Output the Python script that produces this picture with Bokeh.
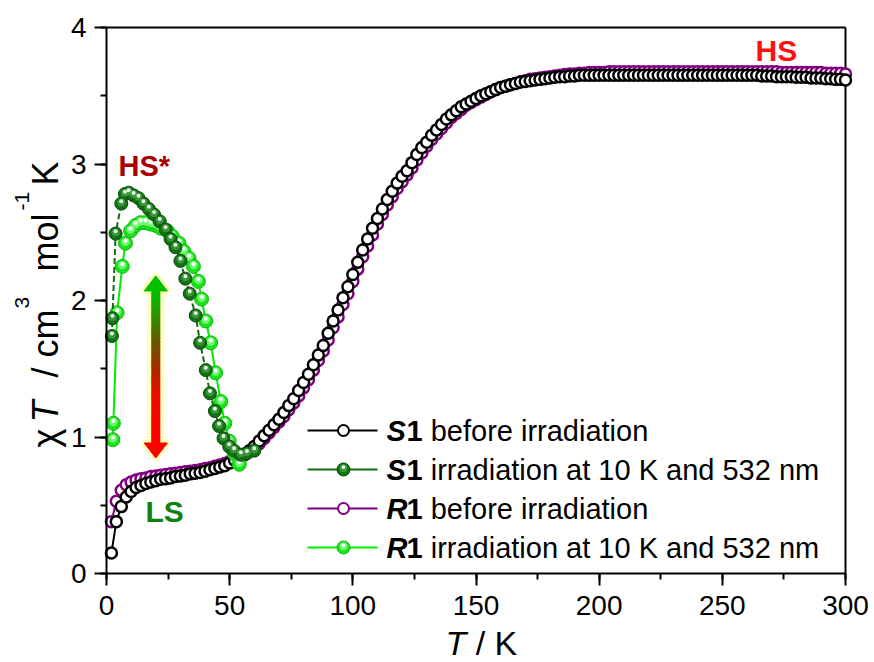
import math
from bokeh.plotting import figure
from bokeh.models import Label, SingleIntervalTicker, Range1d, ColumnDataSource
from bokeh.transform import dodge
from bokeh.embed import file_html
from bokeh.resources import INLINE

# ---------------- data ----------------
T_before = [
    2, 4, 6, 8, 10, 12, 14, 16, 18, 20,
    22, 24, 26, 28, 30, 32, 34, 36, 38, 40,
    42, 44, 46, 48, 50, 52, 54, 56, 58, 60,
    62, 64, 66, 68, 70, 72, 74, 76, 78, 80,
    82, 84, 86, 88, 90, 92, 94, 96, 98, 100,
    102, 104, 106, 108, 110, 112, 114, 116, 118, 120,
    122, 124, 126, 128, 130, 132, 134, 136, 138, 140,
    142, 144, 146, 148, 150, 152, 154, 156, 158, 160,
    162, 164, 166, 168, 170, 172, 174, 176, 178, 180,
    182, 184, 186, 188, 190, 192, 194, 196, 198, 200,
    202, 204, 206, 208, 210, 212, 214, 216, 218, 220,
    222, 224, 226, 228, 230, 232, 234, 236, 238, 240,
    242, 244, 246, 248, 250, 252, 254, 256, 258, 260,
    262, 264, 266, 268, 270, 272, 274, 276, 278, 280,
    282, 284, 286, 288, 290, 292, 294, 296, 298, 300,
]

chiT_S1_before = [
    0.15, 0.38, 0.49, 0.56, 0.60, 0.63, 0.645, 0.66, 0.67, 0.68,
    0.69, 0.695, 0.70, 0.71, 0.715, 0.72, 0.73, 0.735, 0.74, 0.75,
    0.76, 0.77, 0.78, 0.79, 0.81, 0.83, 0.85, 0.87, 0.90, 0.93,
    0.97, 1.01, 1.05, 1.09, 1.13, 1.18, 1.23, 1.28, 1.34, 1.40,
    1.46, 1.53, 1.60, 1.67, 1.76, 1.85, 1.93, 2.02, 2.10, 2.19,
    2.28, 2.37, 2.45, 2.53, 2.60, 2.67, 2.74, 2.80, 2.86, 2.91,
    2.95, 3.01, 3.07, 3.12, 3.16, 3.21, 3.25, 3.29, 3.33, 3.36,
    3.39, 3.42, 3.44, 3.46, 3.48, 3.50, 3.515, 3.53, 3.545, 3.56,
    3.57, 3.58, 3.59, 3.60, 3.605, 3.61, 3.615, 3.62, 3.625, 3.63,
    3.635, 3.64, 3.64, 3.645, 3.645, 3.65, 3.65, 3.65, 3.65, 3.65,
    3.65, 3.65, 3.65, 3.65, 3.65, 3.65, 3.65, 3.65, 3.65, 3.65,
    3.65, 3.65, 3.65, 3.65, 3.65, 3.65, 3.65, 3.65, 3.65, 3.65,
    3.65, 3.65, 3.65, 3.65, 3.65, 3.65, 3.65, 3.65, 3.65, 3.65,
    3.65, 3.65, 3.645, 3.645, 3.645, 3.64, 3.64, 3.64, 3.64, 3.635,
    3.635, 3.635, 3.63, 3.63, 3.63, 3.625, 3.625, 3.62, 3.62, 3.615,
]

chiT_R1_before = [
    0.38, 0.53, 0.61, 0.65, 0.67, 0.685, 0.695, 0.70, 0.71, 0.715,
    0.72, 0.725, 0.73, 0.735, 0.74, 0.745, 0.75, 0.755, 0.76, 0.77,
    0.775, 0.785, 0.795, 0.805, 0.82, 0.835, 0.855, 0.875, 0.895, 0.92,
    0.95, 0.99, 1.03, 1.07, 1.11, 1.15, 1.20, 1.25, 1.30, 1.36,
    1.42, 1.49, 1.56, 1.63, 1.71, 1.80, 1.88, 1.97, 2.05, 2.14,
    2.23, 2.32, 2.40, 2.48, 2.56, 2.63, 2.70, 2.76, 2.82, 2.87,
    2.92, 2.97, 3.03, 3.08, 3.13, 3.18, 3.22, 3.26, 3.30, 3.34,
    3.37, 3.40, 3.43, 3.45, 3.47, 3.49, 3.51, 3.53, 3.545, 3.56,
    3.57, 3.58, 3.59, 3.60, 3.61, 3.62, 3.625, 3.63, 3.635, 3.64,
    3.645, 3.65, 3.655, 3.66, 3.66, 3.665, 3.665, 3.67, 3.67, 3.67,
    3.67, 3.675, 3.675, 3.675, 3.675, 3.675, 3.675, 3.675, 3.675, 3.675,
    3.675, 3.675, 3.675, 3.675, 3.675, 3.675, 3.675, 3.675, 3.675, 3.675,
    3.675, 3.675, 3.675, 3.675, 3.675, 3.675, 3.675, 3.675, 3.675, 3.675,
    3.675, 3.675, 3.675, 3.675, 3.675, 3.675, 3.67, 3.67, 3.67, 3.67,
    3.67, 3.67, 3.67, 3.67, 3.67, 3.665, 3.665, 3.665, 3.665, 3.66,
]

T_S1_irr = [2.2, 2.4, 3.7, 6.0, 7.5, 9.0, 11.0, 13.0, 15.0, 17.2,
            19.3, 21.6, 24.0, 26.0, 28.0, 30.0, 32.0, 33.8, 36.2, 38.0,
            40.3, 42.0, 44.0, 45.7, 47.5, 49.8, 51.8, 54.5, 57.0, 60.0]
chiT_S1_irr = [1.74, 1.87, 2.49, 2.71, 2.78, 2.79, 2.77, 2.75, 2.71, 2.67,
               2.63, 2.58, 2.52, 2.45, 2.39, 2.29, 2.16, 2.05, 1.89, 1.69,
               1.49, 1.32, 1.19, 1.08, 0.99, 0.93, 0.90, 0.87, 0.88, 0.90]

T_R1_irr = [2.6, 2.8, 4.3, 6.4, 7.7, 9.8, 11.8, 13.8, 15.8, 17.9,
            20.0, 22.0, 24.7, 26.7, 29.4, 31.4, 33.5, 35.3, 37.3, 38.6,
            40.3, 42.3, 44.3, 46.4, 48.0, 49.8, 51.8, 53.9]
chiT_R1_irr = [0.98, 1.10, 1.91, 2.25, 2.42, 2.51, 2.55, 2.57, 2.57, 2.56,
               2.55, 2.53, 2.51, 2.47, 2.42, 2.36, 2.31, 2.25, 2.14, 2.01,
               1.85, 1.69, 1.47, 1.26, 1.10, 0.97, 0.88, 0.80]

x_tick_step = 50
y_tick_step = 1

legend_names = [
    ("S", "1", "before irradiation"),
    ("S", "1", "irradiation at 10 K and 532 nm"),
    ("R", "1", "before irradiation"),
    ("R", "1", "irradiation at 10 K and 532 nm"),
]

# ---------------- layout ----------------
W, H = 874, 662
PL, PR, PT, PB = 106, 845, 27, 573   # pixel box of the data area 0..300 x 0..4
X0, X1 = 0, 300
Y0, Y1 = 0, 4
FONT = "Liberation Sans"


def tx(px):
    return X0 + (px - PL) * (X1 - X0) / (PR - PL)


def ty(py):
    return Y0 + (PB - py) * (Y1 - Y0) / (PB - PT)


DY = (Y1 - Y0) / (PB - PT)  # one pixel in y data units

# the frame covers the whole canvas so that the axis titles (drawn as
# several pieces for italic / superscript) are not clipped; the axes are
# placed at fixed data locations
p = figure(width=W, height=H,
           x_range=Range1d(tx(0), tx(W)), y_range=Range1d(ty(H), ty(0)),
           output_backend="svg", toolbar_location=None,
           min_border_left=0, min_border_right=0,
           min_border_top=0, min_border_bottom=0)
p.xgrid.visible = False
p.ygrid.visible = False
p.outline_line_color = None
p.background_fill_color = "white"
p.border_fill_color = "white"

p.xaxis.ticker = SingleIntervalTicker(interval=x_tick_step, num_minor_ticks=2)
p.yaxis.ticker = SingleIntervalTicker(interval=y_tick_step, num_minor_ticks=2)
p.xaxis.fixed_location = Y0
p.yaxis.fixed_location = X0
p.xaxis.bounds = (X0, X1)
p.yaxis.bounds = (Y0, Y1)
for ax in (p.xaxis[0], p.yaxis[0]):
    ax.axis_line_width = 2
    ax.axis_line_color = "black"
    ax.major_tick_line_width = 2
    ax.minor_tick_line_width = 2
    ax.major_tick_line_color = "black"
    ax.minor_tick_line_color = "black"
    ax.major_tick_in = 0
    ax.major_tick_out = 12
    ax.minor_tick_in = 0
    ax.minor_tick_out = 6
    ax.major_label_text_font = FONT
    ax.major_label_text_font_size = "28px"
    ax.major_label_text_color = "black"
    ax.axis_label = None
p.xaxis.major_label_standoff = 10
p.yaxis.major_label_standoff = 8

# top and right frame lines
p.line([X0, X1], [Y1, Y1], line_color="black", line_width=2)
p.line([X1, X1], [Y0, Y1], line_color="black", line_width=2)


def spheres(xs, ys, size, body, edge, mid, hi):
    src = ColumnDataSource(dict(x=xs, y=ys))
    p.scatter("x", "y", source=src, size=size, fill_color=body,
              line_color=edge, line_width=1)
    p.scatter(x="x", y=dodge("y", 1.3 * DY, range=p.y_range), source=src,
              size=size * 0.6, fill_color=mid, line_color=None, fill_alpha=0.9)
    p.scatter(x="x", y=dodge("y", 2.4 * DY, range=p.y_range), source=src,
              size=size * 0.3, fill_color=hi, line_color=None)


PURPLE = "#800080"
DKGREEN = "#0f6f0f"
LTGREEN = "#00ee00"
DK_SPH = ("#137313", "#0b4d0b", "#3f9a3f", "#eef8ee")
LT_SPH = ("#1be31b", "#12b812", "#7dfa7d", "#ffffff")

# R1 before
p.line(T_before, chiT_R1_before, line_color=PURPLE, line_width=2)
p.scatter(T_before, chiT_R1_before, size=11, fill_color="white",
          line_color=PURPLE, line_width=2.5)
# S1 before
p.line(T_before, chiT_S1_before, line_color="black", line_width=2)
p.scatter(T_before, chiT_S1_before, size=11, fill_color="white",
          line_color="black", line_width=2.5)
# R1 irradiated
p.line(T_R1_irr, chiT_R1_irr, line_color=LTGREEN, line_width=2)
spheres(T_R1_irr, chiT_R1_irr, 14, *LT_SPH)
# S1 irradiated
p.line(T_S1_irr, chiT_S1_irr, line_color=DKGREEN, line_width=2, line_dash="6 3")
spheres(T_S1_irr, chiT_S1_irr, 13, *DK_SPH)

# ---------------- gradient arrow ----------------
ax_T = 20
top_tip, top_base = 2.18, 2.07
bot_base, bot_tip = 0.956, 0.846
half_w = 4.7
p.segment(x0=[ax_T], y0=[top_base], x1=[ax_T], y1=[bot_base],
          line_color="#ffff70", line_width=17, line_alpha=0.45)
p.patch([ax_T - half_w, ax_T, ax_T + half_w], [top_base, top_tip, top_base],
        fill_color="#ffff70", fill_alpha=0.45, line_color="#ffff70",
        line_width=7, line_alpha=0.45, line_join="round")
p.patch([ax_T - half_w, ax_T, ax_T + half_w], [bot_base, bot_tip, bot_base],
        fill_color="#ffff70", fill_alpha=0.45, line_color="#ffff70",
        line_width=7, line_alpha=0.45, line_join="round")

stops = [(2.07, (0, 192, 0)), (1.93, (30, 160, 0)), (1.70, (100, 90, 0)),
         (1.50, (170, 40, 0)), (1.30, (240, 10, 0)), (0.956, (255, 0, 0))]


def grad_color(v):
    for (a, ca), (b, cb) in zip(stops[:-1], stops[1:]):
        if b <= v <= a:
            t = (a - v) / (a - b)
            c = [round(ca[k] + (cb[k] - ca[k]) * t) for k in range(3)]
            return "#%02x%02x%02x" % tuple(c)
    return "#ff0000"


N = 48
seg_y0, seg_y1, seg_c = [], [], []
for i in range(N):
    a = top_base - (top_base - bot_base) * i / N
    b = top_base - (top_base - bot_base) * (i + 1) / N
    seg_y0.append(a + 0.004)
    seg_y1.append(b - 0.004)
    seg_c.append(grad_color((a + b) / 2))
p.segment(x0=[ax_T] * N, y0=seg_y0, x1=[ax_T] * N, y1=seg_y1,
          line_color=seg_c, line_width=9, line_cap="butt")
p.patch([ax_T - half_w, ax_T, ax_T + half_w], [top_base, top_tip, top_base],
        fill_color="#00c000", line_color="#00c000", line_width=1)
p.patch([ax_T - half_w, ax_T, ax_T + half_w], [bot_base, bot_tip, bot_base],
        fill_color="#ff0000", line_color="#ff0000", line_width=1)

# ---------------- text annotations ----------------
p.add_layout(Label(x=tx(118), y=ty(165), text="HS*", text_font=FONT,
                   text_font_style="bold", text_font_size="29px",
                   text_color="#a80000", text_baseline="middle"))
p.add_layout(Label(x=tx(755), y=ty(50), text="HS", text_font=FONT,
                   text_font_style="bold", text_font_size="30px",
                   text_color="#ff1010", text_baseline="middle"))
p.add_layout(Label(x=tx(145), y=ty(511), text="LS", text_font=FONT,
                   text_font_style="bold", text_font_size="30px",
                   text_color="#118011", text_baseline="middle"))

# ---------------- legend (drawn by hand for mixed font styles) ----------------
leg_rows = [430, 469, 508, 547]
leg_styles = [
    ("black", "open", None),
    (DKGREEN, "sphere", DK_SPH),
    (PURPLE, "open", None),
    (LTGREEN, "sphere", LT_SPH),
]
LFS = 29
for (pre, num, rest), py, (col, kind, sph) in zip(legend_names, leg_rows, leg_styles):
    yv = ty(py)
    p.line([tx(307), tx(377)], [yv, yv], line_color=col, line_width=2)
    if kind == "open":
        p.scatter([tx(343)], [yv], size=11, fill_color="white",
                  line_color=col, line_width=2)
    else:
        spheres([tx(343)], [yv], 13, *sph)
    x_px = 386
    p.add_layout(Label(x=tx(x_px), y=yv, text=pre, text_font=FONT,
                       text_font_style="bold italic", text_font_size="%dpx" % LFS,
                       text_baseline="middle", text_color="black"))
    x_px += 0.69 * LFS
    p.add_layout(Label(x=tx(x_px), y=yv, text=num, text_font=FONT,
                       text_font_style="bold", text_font_size="%dpx" % LFS,
                       text_baseline="middle", text_color="black"))
    x_px += (0.556 + 0.278) * LFS
    p.add_layout(Label(x=tx(x_px), y=yv, text=rest, text_font=FONT,
                       text_font_size="%dpx" % LFS,
                       text_baseline="middle", text_color="black"))

# ---------------- axis titles (pieces for italic / superscripts) ----------------
# x title: "T / K"
p.add_layout(Label(x=tx(445), y=ty(642), text="T", text_font=FONT,
                   text_font_style="italic", text_font_size="34px",
                   text_baseline="middle", text_color="black"))
p.add_layout(Label(x=tx(445 + (0.611 + 0.278) * 34), y=ty(642), text="/ K",
                   text_font=FONT, text_font_size="34px",
                   text_baseline="middle", text_color="black"))

# y title: "χT / cm3 mol-1 K" rotated (reads bottom to top)
ypieces = [
    ("\u03c7", 447, 45, "36px", "normal"),
    ("T", 422, 45, "36px", "italic"),
    ("/ cm", 377, 45, "36px", "normal"),
    ("3", 308, 21, "21px", "normal"),
    ("mol", 271, 45, "36px", "normal"),
    ("-1", 210, 21, "21px", "normal"),
    ("K", 185, 45, "36px", "normal"),
]
for txt, py, px, fs, st in ypieces:
    p.add_layout(Label(x=tx(px), y=ty(py), text=txt, text_font=FONT,
                       text_font_style=st, text_font_size=fs, angle=math.pi / 2,
                       text_align="left", text_baseline="middle",
                       text_color="black"))

open("out.html", "w").write(file_html(p, INLINE))
